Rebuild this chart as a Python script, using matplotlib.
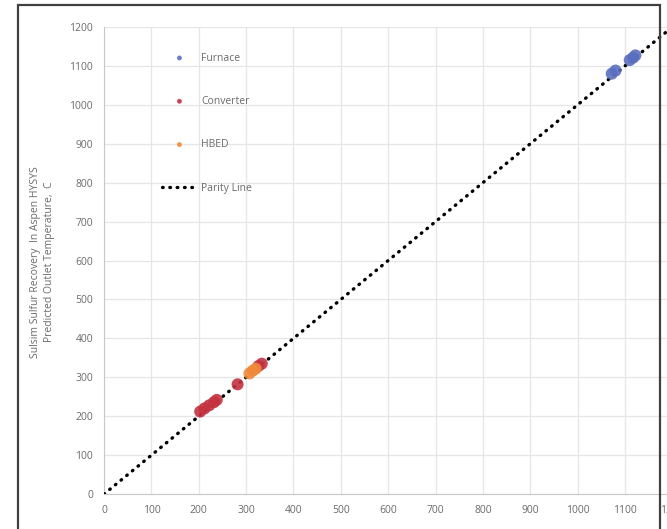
import matplotlib
matplotlib.use('Agg')
import matplotlib.pyplot as plt
from matplotlib.patches import Rectangle

# Values (x: measured, y: HYSYS predicted), deg C
furnace_x = [1072, 1080, 1110, 1117, 1122]
furnace_y = [1080, 1088, 1115, 1121, 1127]
converter_x = [203, 212, 222, 232, 238, 282, 326, 333]
converter_y = [212, 220, 228, 236, 242, 282, 329, 335]
hbed_x = [307, 314, 320]
hbed_y = [310, 317, 322]
parity = [0, 1200]
ticks = list(range(0, 1300, 100))

plt.rcParams['font.family'] = ['Open Sans', 'DejaVu Sans']

fig = plt.figure(figsize=(6.67, 5.29), dpi=100)
ax = fig.add_axes([0.156, 0.066, 0.852, 0.883])

grey = '#6b6b6b'
ax.scatter(furnace_x, furnace_y, s=75, color='#5b6fbf', alpha=0.9, zorder=5, label='Furnace', edgecolors='none')
ax.scatter(converter_x, converter_y, s=75, color='#c43340', alpha=0.9, zorder=5, label='Converter', edgecolors='none')
ax.scatter(hbed_x, hbed_y, s=75, color='#f08a3c', alpha=0.9, zorder=5, label='HBED', edgecolors='none')
ax.plot(parity, parity, color='black', lw=2.4, linestyle=(0, (0.2, 2.0)),
        dash_capstyle='round', zorder=4, label='Parity Line')

ax.set_xlim(0, 1200)
ax.set_ylim(0, 1200)
ax.set_xticks(ticks)
ax.set_yticks(ticks)
ax.grid(True, color='#e6e6e6', lw=0.9)
ax.set_axisbelow(True)
ax.tick_params(length=0, labelsize=7.5, labelcolor=grey, pad=8)
for s in ['top', 'right']:
    ax.spines[s].set_visible(False)
for s in ['left', 'bottom']:
    ax.spines[s].set_color('#c8c8c8')

ax.set_xlabel('Measured Outlet Temperature,  C', fontsize=8, color=grey, labelpad=12)

leg = ax.legend(loc='upper left', bbox_to_anchor=(0.085, 0.965), frameon=False,
                fontsize=7.5, labelcolor=grey, labelspacing=3.1, handlelength=3.4,
                handletextpad=0.4, markerscale=0.4)

fig.text(0.064, 0.505, 'Sulsim Sulfur Recovery  In Aspen HYSYS\nPredicted Outlet Temperature,  C',
         rotation=90, ha='center', va='center', fontsize=7.5, color=grey, linespacing=1.35)

# outer frame
fig.patches.append(Rectangle((0.027, -0.05), 0.962, 1.04, transform=fig.transFigure,
                             fill=False, edgecolor='#404040', lw=1.6))

fig.savefig('out.png', dpi=100)
